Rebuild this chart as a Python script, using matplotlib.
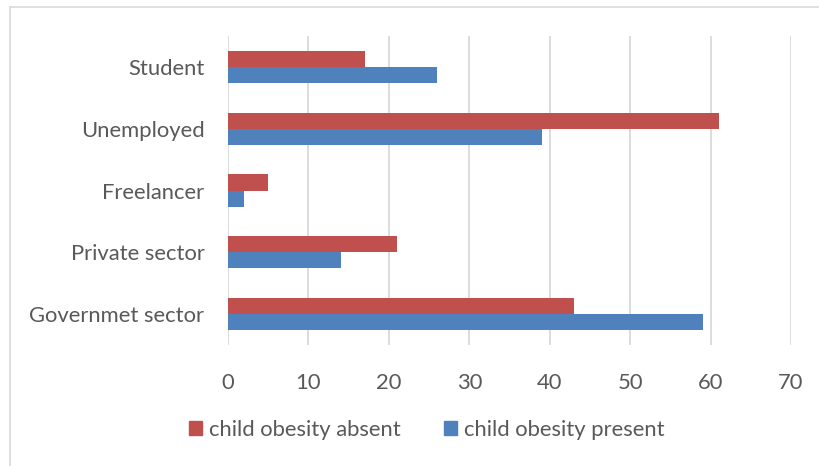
import matplotlib.pyplot as plt
import matplotlib.patches as mpatches
from matplotlib.lines import Line2D
import numpy as np

plt.rcParams["font.family"] = ["Lato", "DejaVu Sans"]

categories = ["Governmet sector", "Private sector", "Freelancer", "Unemployed", "Student"]
absent = [43, 21, 5, 61, 17]
present = [59, 14, 2, 39, 26]

RED = "#C0504D"
BLUE = "#4F81BD"
TEXT = "#595959"
GRID = "#D9D9D9"
FS = 15.8

fig = plt.figure(figsize=(8.19, 4.66), dpi=100)
ax = fig.add_axes([0.2784, 0.2597, 0.6874, 0.663])

y = np.arange(len(categories))
h = 0.26
ax.barh(y + h / 2, absent, height=h, color=RED, label="child obesity absent")
ax.barh(y - h / 2, present, height=h, color=BLUE, label="child obesity present")

ax.set_xlim(0, 70)
ax.set_ylim(-0.5, len(categories) - 0.5)
ax.set_xticks(range(0, 71, 10))
ax.set_yticks(y)
ax.set_yticklabels(categories)
ax.xaxis.grid(True, color=GRID, linewidth=1.3)
ax.set_axisbelow(True)
for s in ax.spines.values():
    s.set_visible(False)
ax.tick_params(axis="both", length=0, labelsize=FS, labelcolor=TEXT)
ax.tick_params(axis="y", pad=17)
ax.tick_params(axis="x", pad=20)

# chart frame (top and left edges)
fig.add_artist(Line2D([10 / 819, 10 / 819], [0, 1 - 7 / 466], color=GRID, lw=1.2))
fig.add_artist(Line2D([10 / 819, 1], [1 - 7 / 466, 1 - 7 / 466], color=GRID, lw=1.2))

handles = [mpatches.Patch(color=RED), mpatches.Patch(color=BLUE)]
fig.legend(handles, ["child obesity absent", "child obesity present"],
           loc="center", bbox_to_anchor=(0.521, 0.077), ncol=2, frameon=False,
           handlelength=0.6, handleheight=0.6, handletextpad=0.3,
           columnspacing=2.0, fontsize=FS, labelcolor=TEXT)

fig.savefig("out.png", dpi=100, facecolor="white")
